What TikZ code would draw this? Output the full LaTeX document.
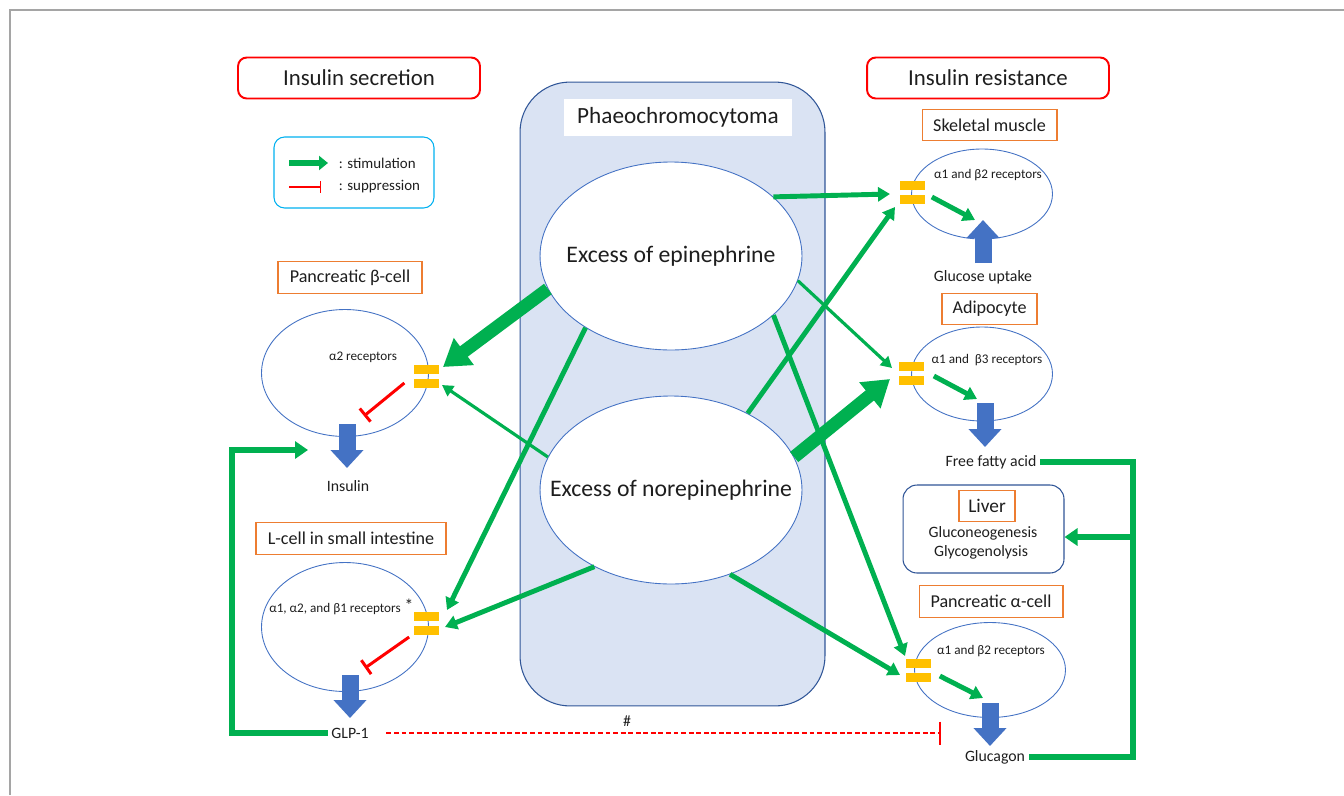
\documentclass[tikz,border=0pt]{standalone}
\usepackage{fontspec}
\setmainfont{Carlito}
\usetikzlibrary{arrows.meta,shapes.geometric}
\definecolor{stimgreen}{RGB}{0,176,80}
\definecolor{recyellow}{RGB}{255,192,0}
\definecolor{boxorange}{RGB}{237,125,49}
\definecolor{cellblue}{RGB}{68,114,196}
\definecolor{darkblue}{RGB}{47,85,151}
\definecolor{tumourfill}{RGB}{218,227,243}
\definecolor{legendcyan}{RGB}{0,176,240}
\definecolor{framegray}{RGB}{165,165,165}
\definecolor{inkgray}{RGB}{30,30,30}
% two yellow bars = one receptor
\newcommand{\receptor}[3]{
    \node[recbar] (#1a) at (#2,#3-7) {};
    \node[recbar] (#1b) at (#2,#3+7) {};
}
\tikzset{
  headbox/.style={draw=red, line width=1.1pt, rounded corners=5pt, minimum width=4.84cm, minimum height=0.82cm, text=inkgray, font=\fontsize{13}{15}\selectfont},
  organ/.style={draw=boxorange, line width=0.6pt, fill=white, minimum height=0.63cm, text=inkgray, font=\fontsize{10.3}{12}\selectfont},
  cell/.style={ellipse, draw=cellblue, line width=0.5pt, fill=white, inner sep=0pt},
  excess/.style={ellipse, draw=cellblue, line width=0.5pt, fill=white, inner sep=0pt, minimum width=5.24cm, minimum height=3.76cm, text=inkgray, font=\fontsize{13.5}{16}\selectfont},
  recbar/.style={fill=recyellow, minimum width=0.5cm, minimum height=0.18cm, inner sep=0pt},
  rectext/.style={inner sep=1pt, text=inkgray, font=\fontsize{7.5}{9}\selectfont},
  outtext/.style={inner sep=2pt, text=inkgray, font=\fontsize{9}{11}\selectfont},
  stim/.style={draw=stimgreen, line width=2.8pt, -{Triangle[length=0.24cm, width=0.28cm]}},
  stimthin/.style={draw=stimgreen, line width=1.8pt, -{Triangle[length=0.22cm, width=0.24cm]}},
  stimthick/.style={draw=stimgreen, line width=7.4pt, -{Triangle[length=0.52cm, width=0.64cm]}},
  supp/.style={draw=red, line width=1.7pt, -{Bar[width=0.34cm, line width=1.7pt]}},
  release/.style={draw=cellblue, line width=0.34cm, -{Triangle[length=0.36cm, width=0.64cm]}},
  feedback/.style={draw=stimgreen, line width=3.4pt},
}

\begin{document}
\begin{tikzpicture}[x=0.02cm, y=-0.02cm]
\useasboundingbox (0,0) rectangle (1344,795);
\draw[framegray, line width=0.8pt] (10,795) -- (10,10) -- (1344,10);

\node[headbox] (secretion) at (359,78) {Insulin secretion};
\node[headbox] (resistance) at (988,78) {Insulin resistance};

% legend
\node[draw=legendcyan, line width=0.6pt, rounded corners=6pt, minimum width=3.2cm, minimum height=1.42cm] (legend) at (354,172.5) {};
\node[outtext, anchor=west, font=\fontsize{8.5}{10}\selectfont] (stimtxt) at (335,163) {: stimulation};
\node[outtext, anchor=west, font=\fontsize{8.5}{10}\selectfont] (supptxt) at (335,187) {: suppression};
\draw[stimgreen, line width=3.4pt, -{Triangle[length=0.18cm, width=0.28cm]}] (289,163) -- (328,163);
\draw[red, line width=0.8pt, -{Bar[width=0.24cm, line width=0.8pt]}] (289,187) -- (321,187);

% tumour
\node[draw=darkblue, fill=tumourfill, line width=0.6pt, rounded corners=1cm, minimum width=6.1cm, minimum height=12.48cm] (tumour) at (672.5,394) {};
\node[fill=white, minimum width=4.56cm, minimum height=0.74cm, text=inkgray, font=\fontsize{13.2}{15}\selectfont] (phaeo) at (678,117) {Phaeochromocytoma};
\node[excess] (epi) at (671,256) {\makebox[0pt]{Excess of epinephrine}};
\node[excess] (norepi) at (671,490) {\makebox[0pt]{Excess of norepinephrine}};

% skeletal muscle
\node[organ, minimum width=2.7cm] (muscle) at (989.5,125) {Skeletal muscle};
\node[cell, minimum width=2.82cm, minimum height=1.8cm] (mcell) at (982,194) {};
\node[rectext] (mtxt) at (988,175) {α1 and β2 receptors};
\receptor{mr}{912}{192}
\coordinate (mup1) at (983,263);
\coordinate (mup2) at (983,220);
\draw[release] (mup1) -- (mup2);
\draw[stim] ([shift={(7,-2)}]mrb.east) -- ([xshift=-0.16cm]mup2);
\node[outtext] (uptake) at (983,277) {Glucose uptake};

% adipocyte
\node[organ, minimum width=1.9cm] (adipo) at (989.5,309) {Adipocyte};
\node[cell, minimum width=2.82cm, minimum height=1.88cm] (fcell) at (982,374) {};
\node[rectext] (ftxt) at (987,360) {α1 and\ \ β3 receptors};
\receptor{fr}{911}{373}
\coordinate (fdown1) at (985,403);
\coordinate (fdown2) at (985,447);
\draw[release] (fdown1) -- (fdown2);
\draw[stim] ([shift={(10,-4)}]frb.east) -- ([shift={(-8,-4)}]fdown1);
\node[outtext] (ffa) at (991,462) {Free fatty acid};

% liver
\node[draw=darkblue, line width=0.6pt, rounded corners=8pt, minimum width=3.22cm, minimum height=1.76cm] (liver) at (983.5,529) {};
\node[organ, minimum width=1.12cm, font=\fontsize{11}{13}\selectfont] (livername) at (987,506) {Liver};
\node[outtext] (gneo) at (983,533) {Gluconeogenesis};
\node[outtext] (glys) at (981,552) {Glycogenolysis};

% pancreatic alpha-cell
\node[organ, minimum width=2.88cm] (alpha) at (991,601.5) {Pancreatic α-cell};
\node[cell, minimum width=3.02cm, minimum height=1.9cm] (gcell) at (990,670) {};
\node[rectext] (gtxt) at (991,651) {α1 and β2 receptors};
\receptor{gr}{918}{670}
\coordinate (gdown1) at (990,703);
\coordinate (gdown2) at (990,746);
\draw[release] (gdown1) -- (gdown2);
\draw[stim] ([shift={(9,-1)}]grb.east) -- ([shift={(-7,-5)}]gdown1);
\node[outtext] (glucagon) at (995,757) {Glucagon};

% pancreatic beta-cell
\node[organ, minimum width=2.88cm] (beta) at (350,277.5) {Pancreatic β-cell};
\node[cell, minimum width=3.34cm, minimum height=2.54cm] (bcell) at (345,373) {};
\node[rectext] (btxt) at (363,357) {α2 receptors};
\receptor{br}{426}{376}
\coordinate (bdown1) at (347,424);
\coordinate (bdown2) at (347,468);
\draw[release] (bdown1) -- (bdown2);
\draw[supp] ([xshift=-5]brb.west) -- ([shift={(17,-8)}]bdown1);
\node[outtext] (insulin) at (348,486) {Insulin};

% L-cell
\node[organ, minimum width=3.8cm] (lname) at (351,538.5) {L-cell in small intestine};
\node[cell, minimum width=3.34cm, minimum height=2.58cm] (lcell) at (345,627) {};
\node[rectext] (ltxt) at (335,609) {α1, α2, and β1 receptors};
\node[inner sep=0pt, text=inkgray, font=\fontsize{10}{12}\selectfont] (star) at (409,605) {*};
\receptor{lr}{426}{623}
\coordinate (ldown1) at (350,675);
\coordinate (ldown2) at (350,718);
\draw[release] (ldown1) -- (ldown2);
\draw[supp] ([shift={(-4,7)}]lrb.west) -- ([shift={(15,-7)}]ldown1);
\node[outtext] (glp) at (350,733) {GLP-1};

% arrow targets at the receptors
\coordinate (mrin1) at (890,194);
\coordinate (mrin2) at (895,207);
\coordinate (frin1) at (892,368);
\coordinate (frin2) at (890,379);
\coordinate (grin1) at (905,656);
\coordinate (grin2) at (900,675);
\coordinate (brin1) at (443,367);
\coordinate (brin2) at (442,385);
\coordinate (lrin1) at (447,610);
\coordinate (lrin2) at (445,627);

% epinephrine
\draw[stim] (epi.30) -- (mrin1);
\draw[stimthin] (epi.-11) -- (frin1);
\draw[stim] (epi.-30) -- (grin1);
\draw[stimthick] (epi.195) -- (brin1);
\draw[stim] (epi.220) -- (lrin1);
% norepinephrine
\draw[stim] (norepi.45) -- (mrin2);
\draw[stimthick] (norepi.15) -- (frin2);
\draw[stimthin] (norepi.165) -- (brin2);
\draw[stim] (norepi.225) -- (lrin2);
\draw[stim] (norepi.-55) -- (grin2);

% loops
\coordinate (fbjoin) at (1133,537);
\draw[feedback] (ffa.east) -| (fbjoin) |- (glucagon.east);
\draw[feedback, -{Triangle[length=0.26cm, width=0.34cm]}] (fbjoin) -- (fbjoin -| liver.east);
\coordinate (insin) at (308,450);
\draw[feedback, -{Triangle[length=0.26cm, width=0.34cm]}] (glp.west) -- ++(-96,0) |- (insin);
\coordinate (glucstop) at (941,733);
\draw[red, line width=1pt, dash pattern=on 2.8pt off 1.5pt, shorten <=0.28cm, -{Bar[width=0.46cm, line width=1pt]}] (glp.east) -- (glucstop);
\node[inner sep=0pt, text=inkgray, font=\fontsize{9}{11}\selectfont] (hash) at (627,721) {\#};
\end{tikzpicture}
\end{document}
